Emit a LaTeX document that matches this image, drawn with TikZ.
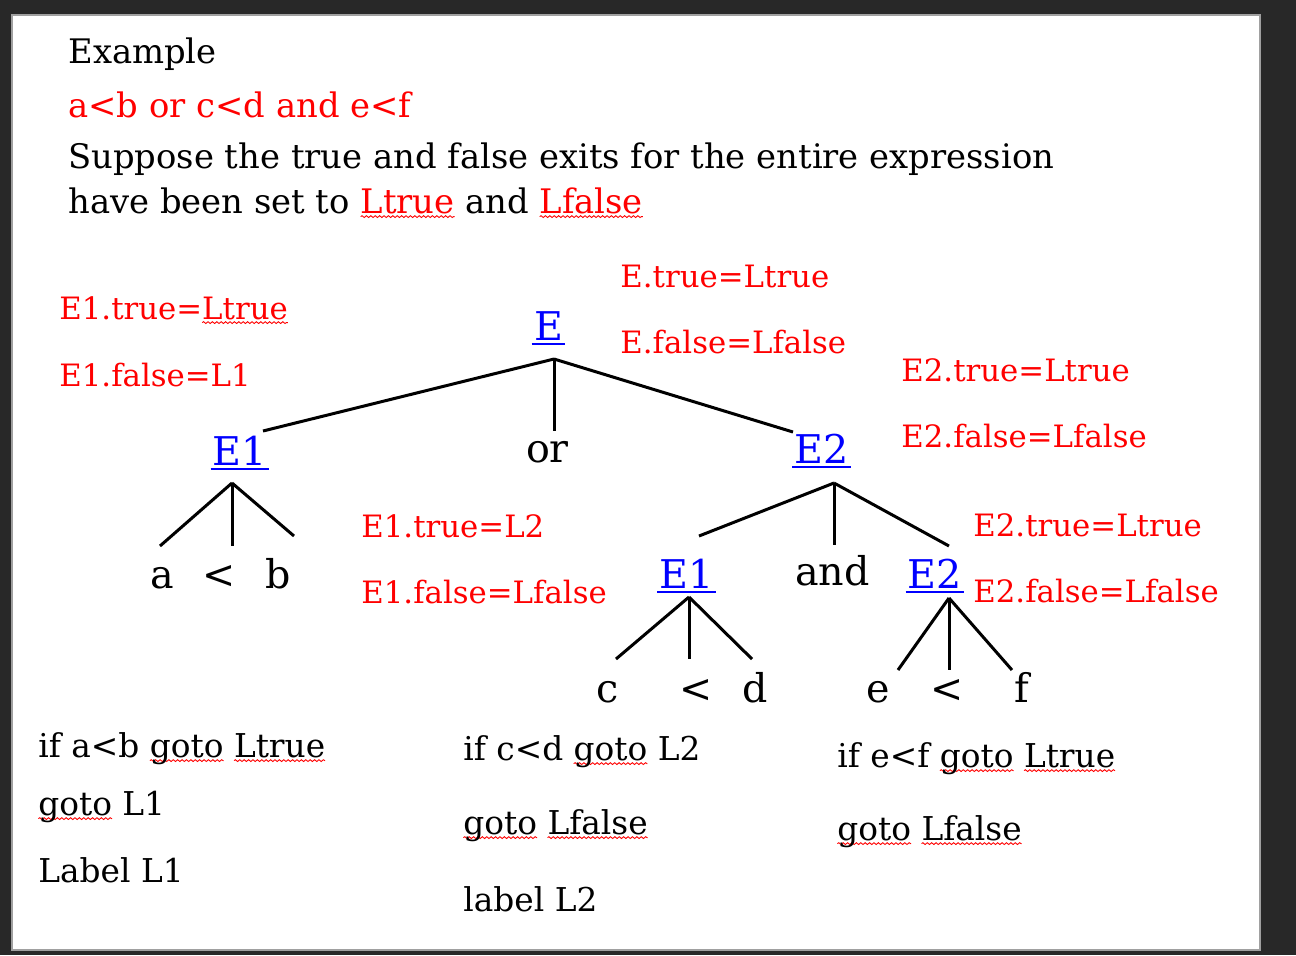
\documentclass[tikz,border=0pt]{standalone}
\usepackage{fontspec}
\setmainfont{DejaVu Serif}
\usetikzlibrary{calc,decorations.pathmorphing}
\definecolor{rd}{RGB}{255,0,0}
\definecolor{bl}{RGB}{0,0,255}
\definecolor{frame}{RGB}{40,40,40}
\newcommand\wvy[1]{\setbox0\hbox{#1}\rlap{\tikz[overlay,baseline=0pt]\draw[rd,line width=0.45pt,decorate,decoration={snake,amplitude=0.45pt,segment length=2.2pt}] (0pt,-1.8pt) -- (\wd0,-1.8pt);}\box0\relax}
\begin{document}
\begin{tikzpicture}[x=0.5pt,y=-0.5pt,
  txt/.style={anchor=base west,inner sep=0pt,font=\fontsize{16.9}{20}\selectfont},
  lbl/.style={anchor=base west,inner sep=0pt,text=rd,font=\fontsize{15.4}{18}\selectfont},
  code/.style={anchor=base west,inner sep=0pt,font=\fontsize{16.4}{20}\selectfont},
  tree/.style={anchor=base,inner sep=0pt,font=\fontsize{19.8}{23}\selectfont},
  nt/.style={tree,text=bl},
  edge/.style={line width=1.5pt,line cap=butt},
  ul/.style={bl,line width=1pt}]
\fill[frame] (0,0) rectangle (1296,955);
\draw[fill=white,draw={rgb,255:red,160;green,160;blue,160},line width=0.6pt] (12,15) rectangle (1260,950);
\useasboundingbox (0,0) rectangle (1296,955);

% header text
\node[txt] (ex) at (68,63) {Example};
\node[txt,text=rd] (expr) at (68,117) {a<b or c<d and e<f};
\node[txt] (sup) at (68,168) {Suppose the true and false exits for the entire expression};
\node[txt] (have) at (68,213) {have been set to \textcolor{rd}{\wvy{Ltrue}} and \textcolor{rd}{\wvy{Lfalse}}};

% attribute labels
\node[lbl] (etrue) at (620,287) {E.true=Ltrue};
\node[lbl] (efalse) at (620,353) {E.false=Lfalse};
\node[lbl] (e1true) at (59,319) {E1.true=\wvy{Ltrue}};
\node[lbl] (e1false) at (59,386) {E1.false=L1};
\node[lbl] (e1trueb) at (361,537) {E1.true=L2};
\node[lbl] (e1falseb) at (361,603) {E1.false=Lfalse};
\node[lbl] (e2true) at (901,381) {E2.true=Ltrue};
\node[lbl] (e2false) at (901,447) {E2.false=Lfalse};
\node[lbl] (e2trueb) at (973,536) {E2.true=Ltrue};
\node[lbl] (e2falseb) at (973,602) {E2.false=Lfalse};

% tree nodes
\node[nt] (E) at (548.5,340) {E};
\node[nt] (E1) at (240,465) {E1};
\node[tree] (or) at (547.5,462) {or};
\node[nt] (E2) at (821.5,463) {E2};
\node[tree] (a) at (162,588) {a};
\node[tree] (lt1) at (219,588) {<};
\node[tree] (b) at (278.5,588) {b};
\node[nt] (E1b) at (686.5,588) {E1};
\node[tree] (and) at (832.5,585) {and};
\node[nt] (E2b) at (935,588) {E2};
\node[tree] (c) at (607.5,702) {c};
\node[tree] (lt2) at (696,702) {<};
\node[tree] (d) at (755,702) {d};
\node[tree] (e) at (878.5,702) {e};
\node[tree] (lt3) at (947,702) {<};
\node[tree] (f) at (1022,702) {f};

% underlines of nonterminals
\foreach \n in {E,E1,E2,E1b,E2b}
  \draw[ul] ($(\n.base west)+(-2,4)$) -- ($(\n.base east)+(2,4)$);

% connectors
\draw[edge] ($(E.base)+(5.5,19)$) -- ($(E1.base)+(23,-34)$);
\draw[edge] ($(E.base)+(5.5,19)$) -- ($(or.base)+(6.5,-31)$);
\draw[edge] ($(E.base)+(5.5,19)$) -- ($(E2.base)+(-28.5,-31)$);
\draw[edge] ($(E1.base)+(-8,18)$) -- ($(a.base)+(-2,-42)$);
\draw[edge] ($(E1.base)+(-8,18)$) -- ($(lt1.base)+(13,-42)$);
\draw[edge] ($(E1.base)+(-8,18)$) -- ($(b.base)+(15.5,-52)$);
\draw[edge] ($(E2.base)+(12.5,20)$) -- ($(E1b.base)+(12.5,-52)$);
\draw[edge] ($(E2.base)+(12.5,20)$) -- ($(and.base)+(1.5,-40)$);
\draw[edge] ($(E2.base)+(12.5,20)$) -- ($(E2b.base)+(14,-42)$);
\draw[edge] ($(E1b.base)+(2.5,9)$) -- ($(c.base)+(8.5,-43)$);
\draw[edge] ($(E1b.base)+(2.5,9)$) -- ($(lt2.base)+(-7,-43)$);
\draw[edge] ($(E1b.base)+(2.5,9)$) -- ($(d.base)+(-3,-43)$);
\draw[edge] ($(E2b.base)+(14,10)$) -- ($(e.base)+(19.5,-32)$);
\draw[edge] ($(E2b.base)+(14,10)$) -- ($(lt3.base)+(2,-32)$);
\draw[edge] ($(E2b.base)+(14,10)$) -- ($(f.base)+(-10,-32)$);

% generated code
\node[code] (c1) at (38,757) {if a<b \wvy{goto} \wvy{Ltrue}};
\node[code] (c2) at (38,815) {\wvy{goto} L1};
\node[code] (c3) at (38,882) {Label L1};
\node[code] (c4) at (463,760) {if c<d \wvy{goto} L2};
\node[code] (c5) at (463,834) {\wvy{goto} \wvy{Lfalse}};
\node[code] (c6) at (463,911) {label L2};
\node[code] (c7) at (837,767) {if e<f \wvy{goto} \wvy{Ltrue}};
\node[code] (c8) at (837,840) {\wvy{goto} \wvy{Lfalse}};
\end{tikzpicture}
\end{document}
